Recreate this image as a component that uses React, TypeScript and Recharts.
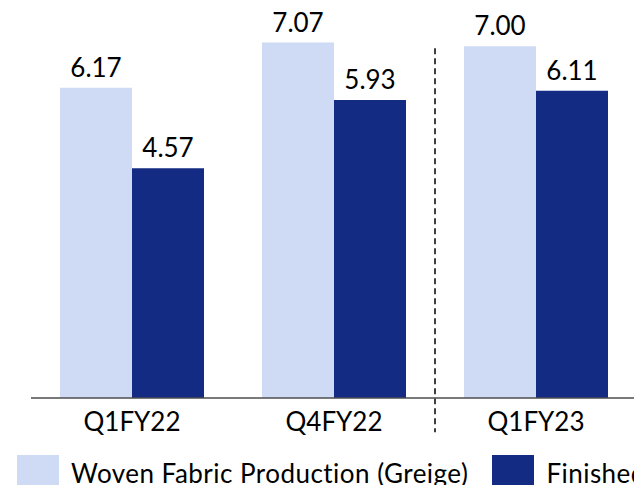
import React from 'react';
import { BarChart, Bar, XAxis, YAxis, Legend, LabelList, ReferenceLine } from 'recharts';

const quarters = ['Q1FY22', 'Q4FY22', 'Q1FY23'];
const greige = [6.17, 7.07, 7.0];
const finished = [4.57, 5.93, 6.11];
const seriesNames = ['Woven Fabric Production (Greige)', 'Finished Fabric Production'];
// dashed divider before the current quarter, in data units (top, bottom)
const dividerAt = 'Q1FY23';
const dividerSpan = [6.96, -0.68];

const data = quarters.map((q, i) => ({ name: q, greige: greige[i], finished: finished[i] }));

const LIGHT = '#CFDAF5';
const DARK = '#132B82';
const FONT = 'Lato, "Open Sans", sans-serif';
const seriesColors = [LIGHT, DARK];

// keep legend in series order (recharts sorts payload by name otherwise)
const LegendContent = () => {
  return (
    <div style={{ position: 'relative', height: 0 }}>
      <div style={{ position: 'absolute', left: 17, top: 0, display: 'flex', whiteSpace: 'nowrap' }}>
        {seriesNames.map((name, i) => (
          <div key={i} style={{ display: 'flex', alignItems: 'flex-start', marginRight: 24 }}>
            <div style={{ width: 42, height: 42, background: seriesColors[i], marginRight: 12 }} />
            <span style={{ fontFamily: FONT, fontSize: 26, color: '#000', lineHeight: '26px', marginTop: 5, letterSpacing: 0.47 }}>
              {name}
            </span>
          </div>
        ))}
      </div>
    </div>
  );
};

const App: React.FC = () => {
  return (
    <div style={{ position: 'absolute', left: 0, top: 0, width: 634, height: 485, overflow: 'hidden', background: '#fff', fontFamily: FONT }}>
      <BarChart width={640} height={485} data={data} margin={{ top: 21, right: 3, left: 31, bottom: 47 }} barGap={0}>
        <XAxis
          dataKey="name"
          height={40}
          tickLine={false}
          tickSize={0}
          tickMargin={15}
          axisLine={{ stroke: '#4d4d4d', strokeWidth: 1.5 }}
          tick={{ fontSize: 26, fill: '#000', fontFamily: FONT }}
        />
        <YAxis hide domain={[0, 7.5]} />
        <ReferenceLine
          position="start"
          segment={[{ x: dividerAt, y: dividerSpan[0] }, { x: dividerAt, y: dividerSpan[1] }]}
          ifOverflow="visible"
          stroke="#000"
          strokeWidth={1.5}
          strokeDasharray="6 4"
        />
        <Legend
          verticalAlign="bottom"
          content={<LegendContent />}
          wrapperStyle={{ top: 455, bottom: 'auto', left: 0, width: 700 }}
        />
        <Bar dataKey="greige" name={seriesNames[0]} fill={LIGHT} barSize={72} isAnimationActive={false}>
          <LabelList dataKey="greige" position="top" offset={11} formatter={(v: any) => Number(v).toFixed(2)} style={{ fontSize: 26, fill: '#000', fontFamily: FONT }} />
        </Bar>
        <Bar dataKey="finished" name={seriesNames[1]} fill={DARK} barSize={72} isAnimationActive={false}>
          <LabelList dataKey="finished" position="top" offset={11} formatter={(v: any) => Number(v).toFixed(2)} style={{ fontSize: 26, fill: '#000', fontFamily: FONT }} />
        </Bar>
      </BarChart>
    </div>
  );
};

export default App;
